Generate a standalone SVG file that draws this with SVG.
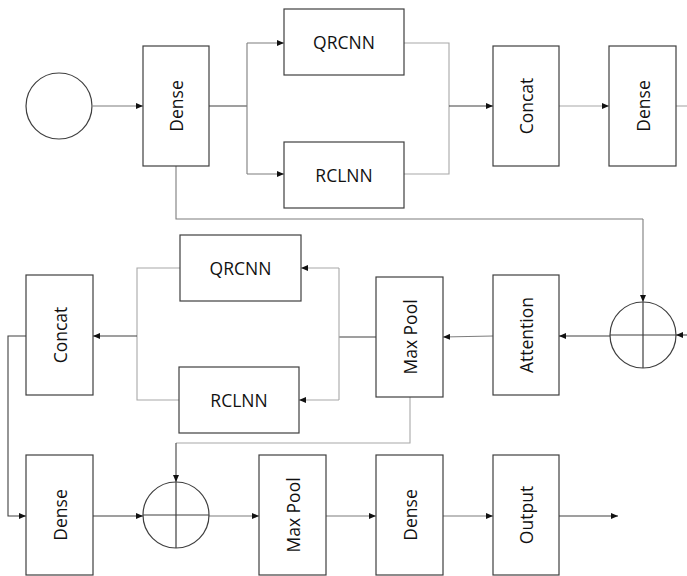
<svg xmlns="http://www.w3.org/2000/svg" width="687" height="576" viewBox="0 0 687 576">
<style>
.box{fill:#fff;stroke:#3f3f3f;stroke-width:1.2}
.circ{fill:#fff;stroke:#3f3f3f;stroke-width:1.2}
.cross{stroke:#3f3f3f;stroke-width:1.2;fill:none}
text{font-family:"Open Sans","Liberation Sans",sans-serif;font-size:17.5px;fill:#111;text-anchor:middle;dominant-baseline:central}
.c path{fill:none;stroke-width:1.1}
.d{stroke:#404040}
.m{stroke:#7d7d7d}
.g{stroke:#a8a8a8}
</style>
<defs>
<marker id="ah" viewBox="0 0 7 6" refX="7" refY="3" markerWidth="7" markerHeight="6" orient="auto" markerUnits="userSpaceOnUse">
<path d="M0,0 L7,3 L0,6 z" fill="#111"/>
</marker>
</defs>
<g id="connectors" class="c">
<path class="m" d="M93,106 H143" marker-end="url(#ah)"/>
<path class="d" d="M209,106 H247"/>
<path class="m" d="M247,43 V174"/>
<path class="m" d="M247,43 H284" marker-end="url(#ah)"/>
<path class="m" d="M247,174 H284" marker-end="url(#ah)"/>
<path class="g" d="M404,43 H449 V174 H404"/>
<path class="d" d="M449,106 H493" marker-end="url(#ah)"/>
<path class="g" d="M559,106 H609" marker-end="url(#ah)"/>
<path class="g" d="M676,106 H687"/>
<path class="m" d="M176,166 V219 H643"/>
<path class="m" d="M643,219 V302" marker-end="url(#ah)"/>
<path class="d" d="M687,335 H676" marker-end="url(#ah)"/>
<path class="d" d="M610,336 H559" marker-end="url(#ah)"/>
<path class="m" d="M493,336 L443,337" marker-end="url(#ah)"/>
<path class="d" d="M376,337 H339"/>
<path class="g" d="M339,268 V400"/>
<path class="g" d="M339,268 H301" marker-end="url(#ah)"/>
<path class="g" d="M339,400 H299" marker-end="url(#ah)"/>
<path class="g" d="M180,268 H137 V400 H179"/>
<path class="d" d="M137,336 H93" marker-end="url(#ah)"/>
<path class="d" d="M26,336 H8 V516 H26" marker-end="url(#ah)"/>
<path class="g" d="M410,397 V443 H176"/>
<path class="d" d="M176,443 V482" marker-end="url(#ah)"/>
<path class="d" d="M93,516 H143" marker-end="url(#ah)"/>
<path class="m" d="M209,516 H259" marker-end="url(#ah)"/>
<path class="m" d="M326,516 H376" marker-end="url(#ah)"/>
<path class="m" d="M443,516 H493" marker-end="url(#ah)"/>
<path class="d" d="M559,516 H618" marker-end="url(#ah)"/>
</g>
<g id="input"><circle class="circ" cx="59" cy="106" r="33"/></g>
<g id="dense1"><rect class="box" x="143" y="46" width="66" height="120"/><text transform="translate(176,106) rotate(-90)">Dense</text></g>
<g id="qrcnn1"><rect class="box" x="284" y="9" width="120" height="66"/><text x="344" y="42">QRCNN</text></g>
<g id="rclnn1"><rect class="box" x="284" y="142" width="120" height="66"/><text x="344" y="175">RCLNN</text></g>
<g id="concat1"><rect class="box" x="493" y="46" width="66" height="120"/><text transform="translate(526,106) rotate(-90)">Concat</text></g>
<g id="dense2"><rect class="box" x="609" y="46" width="67" height="120"/><text transform="translate(642.5,106) rotate(-90)">Dense</text></g>
<g id="sum1"><circle class="circ" cx="643" cy="335" r="33"/><path class="cross" d="M610,335 H676 M643,302 V368"/></g>
<g id="attention"><rect class="box" x="493" y="275" width="66" height="120"/><text transform="translate(526,335) rotate(-90)">Attention</text></g>
<g id="maxpool1"><rect class="box" x="376" y="277" width="67" height="120"/><text transform="translate(409.5,337) rotate(-90)">Max Pool</text></g>
<g id="qrcnn2"><rect class="box" x="180" y="235" width="121" height="66"/><text x="240.5" y="268">QRCNN</text></g>
<g id="rclnn2"><rect class="box" x="179" y="367" width="120" height="66"/><text x="239" y="400">RCLNN</text></g>
<g id="concat2"><rect class="box" x="26" y="275" width="67" height="120"/><text transform="translate(59.5,335) rotate(-90)">Concat</text></g>
<g id="dense3"><rect class="box" x="26" y="455" width="67" height="120"/><text transform="translate(59.5,515) rotate(-90)">Dense</text></g>
<g id="sum2"><circle class="circ" cx="176" cy="515" r="33"/><path class="cross" d="M143,515 H209 M176,482 V548"/></g>
<g id="maxpool2"><rect class="box" x="259" y="455" width="67" height="120"/><text transform="translate(292.5,515) rotate(-90)">Max Pool</text></g>
<g id="dense4"><rect class="box" x="376" y="455" width="67" height="120"/><text transform="translate(409.5,515) rotate(-90)">Dense</text></g>
<g id="output"><rect class="box" x="493" y="455" width="66" height="120"/><text transform="translate(526,515) rotate(-90)">Output</text></g>
</svg>
